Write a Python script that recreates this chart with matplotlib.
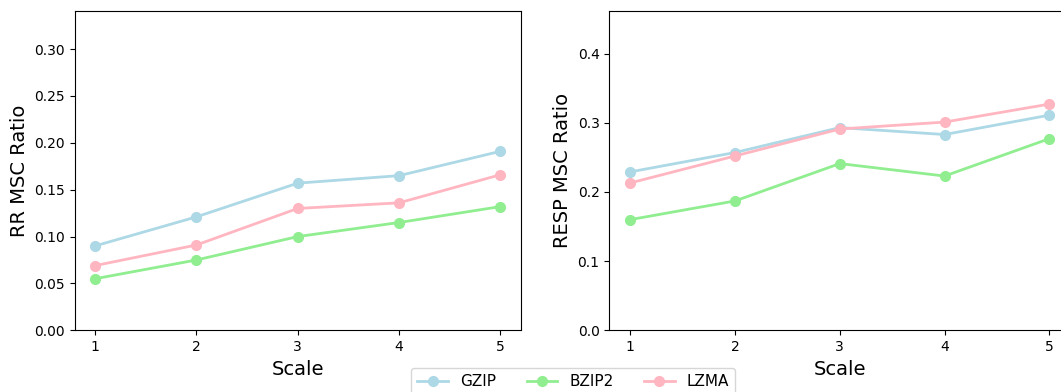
import matplotlib

matplotlib.use('Agg')

import matplotlib.pyplot as plt

scales = [1, 2, 3, 4, 5]

# RR signal ratios
rr_gzip = [0.090, 0.121, 0.157, 0.165, 0.191]
rr_bzip2 = [0.055, 0.075, 0.100, 0.115, 0.132]
rr_lzma = [0.069, 0.091, 0.130, 0.136, 0.166]

# RESP signal ratios
resp_gzip = [0.229, 0.257, 0.293, 0.283, 0.311]
resp_bzip2 = [0.160, 0.187, 0.241, 0.223, 0.277]
resp_lzma = [0.213, 0.252, 0.291, 0.301, 0.327]

labels = ['GZIP', 'BZIP2', 'LZMA']
colors = ['lightblue', 'lightgreen', 'lightpink']

fig = plt.figure(figsize=(10.61, 3.92), dpi=100)
ax1 = fig.add_axes([74.7 / 1061, 0.1574, 446 / 1061, 0.8153])
ax2 = fig.add_axes([609.3 / 1061, 0.1574, 461 / 1061, 0.8153])

for ax, series, ylabel, top in [
    (ax1, [rr_gzip, rr_bzip2, rr_lzma], 'RR MSC Ratio', 0.341),
    (ax2, [resp_gzip, resp_bzip2, resp_lzma], 'RESP MSC Ratio', 0.462),
]:
    for vals, lab, col in zip(series, labels, colors):
        ax.plot(scales, vals, '-o', color=col, label=lab, linewidth=2, markersize=7)
    ax.set_xticks(scales)
    ax.set_ylim(0, top)
    ax.set_xlabel('Scale', fontsize=14)
    ax.set_ylabel(ylabel, fontsize=14)

ax1.set_yticks([0.0, 0.05, 0.10, 0.15, 0.20, 0.25, 0.30])
ax1.set_yticklabels(['%.2f' % v for v in [0.0, 0.05, 0.10, 0.15, 0.20, 0.25, 0.30]])
ax2.set_yticks([0.0, 0.1, 0.2, 0.3, 0.4])

# shared legend under both panels
handles, labs = ax1.get_legend_handles_labels()
fig.legend(handles, labs, loc='upper center', ncol=3, fontsize=11, borderaxespad=0,
           bbox_to_anchor=(573.3 / 1061, 1 - 368 / 392))

fig.savefig('out.png', dpi=100)
